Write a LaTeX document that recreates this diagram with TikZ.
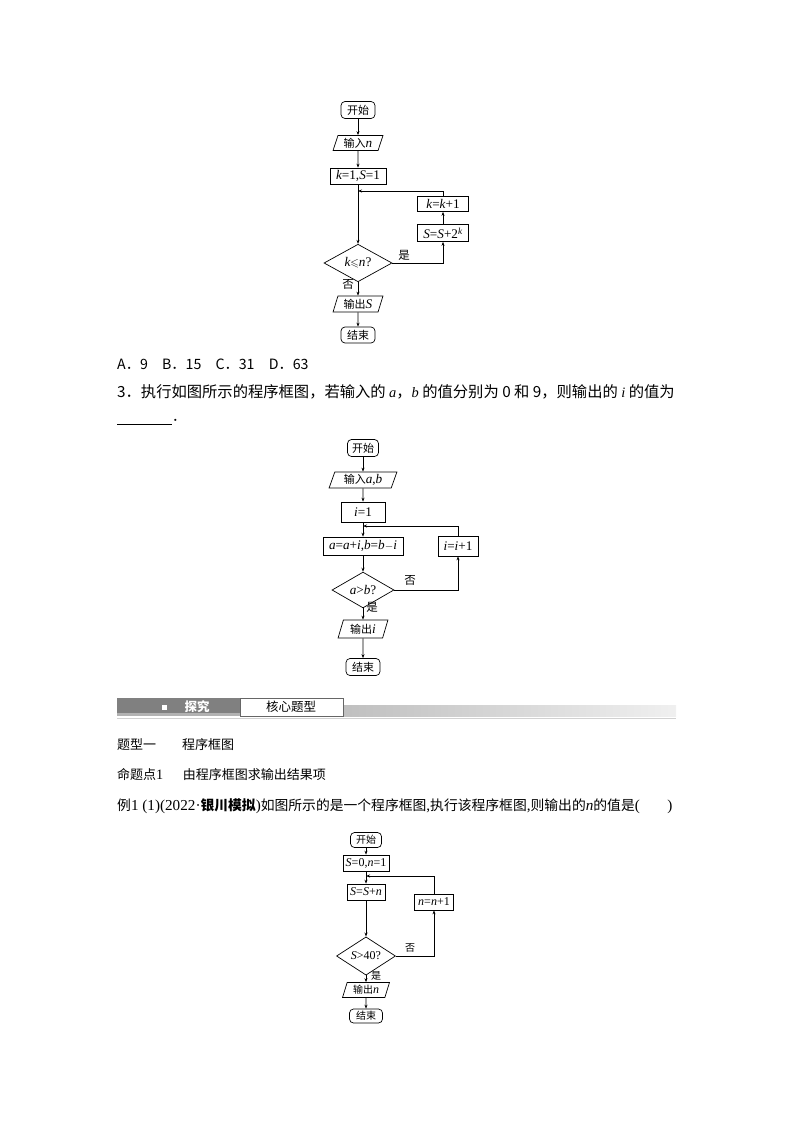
\documentclass[tikz,border=0pt]{standalone}
\usepackage{amssymb}
\usepackage{fontspec}
\setmainfont{Noto Sans CJK SC}
\newfontfamily\lat[Scale=1.2]{Liberation Serif}
\newfontfamily\latb[Scale=1.1]{Liberation Serif}
\newcommand\vv[1]{{\lat\itshape #1}}
\newcommand\ff[1]{{\lat #1}}
\newcommand\bv[1]{{\latb\itshape #1}}
\usetikzlibrary{shapes.geometric,arrows.meta}
\begin{document}
\begin{tikzpicture}[x=1pt,y=-1pt,
  >={Stealth[length=4pt,width=3pt]},
  fc/.style={draw, line width=0.7pt, inner sep=0.5pt, font=\fontsize{11}{12}\selectfont},
  fcs/.style={fc, font=\fontsize{10}{11}\selectfont},
  term/.style={rounded corners=4pt},
  proc/.style={rectangle},
  io/.style={trapezium, trapezium left angle=72, trapezium right angle=108, trapezium stretches},
  dec/.style={diamond, inner sep=0pt},
  conn/.style={line width=0.7pt},
  lbl/.style={font=\fontsize{11.5}{12}\selectfont, inner sep=0pt},
  body/.style={font=\fontsize{13.8}{15}\selectfont, anchor=west, inner sep=0pt}]
\useasboundingbox (0,0) rectangle (794,1123);
\fill[white] (0,0) rectangle (794,1123);

% ---------- flowchart 1 ----------
\node[fc,term, minimum width=34pt, minimum height=17pt] (s1) at (358,110) {开始};
\node[fc,io, minimum width=50pt, minimum height=15pt] (in1) at (358,143) {输入\vv{n}};
\node[fc,proc, minimum width=56pt, minimum height=16pt] (init1) at (358,176) {\ff{\vv{k}=1,\vv{S}=1}};
\node[fc,proc, minimum width=51pt, minimum height=15pt] (kk1) at (443,204) {\ff{\vv{k}=\vv{k}+1}};
\node[fc,proc, minimum width=51pt, minimum height=17pt] (ss1) at (443,233) {\ff{\vv{S}=\vv{S}+2\textsuperscript{\vv{k}}}};
\node[fc,dec, minimum width=68pt, minimum height=28pt] (d1) at (358,263) {\ff{\vv{k}$\leqslant$\vv{n}?}};
\node[fc,io, minimum width=50pt, minimum height=16pt] (out1) at (358,304) {输出\vv{S}};
\node[fc,term, minimum width=34pt, minimum height=16pt] (e1) at (358,335) {结束};
\coordinate (j1) at (358,191);
\draw[conn,->] (s1) -- (in1);
\draw[conn,->] (in1) -- (init1);
\draw[conn,->] (init1) -- (d1);
\draw[conn,->] (kk1.north) |- (j1);
\draw[conn,->] (ss1) -- (kk1);
\draw[conn,->] (d1.east) -| (ss1.south);
\draw[conn,->] (d1) -- (out1);
\draw[conn,->] (out1) -- (e1);
\node[lbl] (l1a) at (404,255) {是};
\node[lbl] (l1b) at (348,284) {否};

% ---------- text ----------
\node[body, font=\fontsize{14.2}{15}\selectfont] (opt) at (117,364) {A．9\quad B．15\quad C．31\quad D．63};
\node[body, font=\fontsize{15.3}{16}\selectfont] (q3) at (117,392) {3．执行如图所示的程序框图，若输入的 {\lat\itshape\fontsize{12}{13}\selectfont a}，{\lat\itshape\fontsize{12}{13}\selectfont b} 的值分别为 0 和 9，则输出的 {\lat\itshape\fontsize{12}{13}\selectfont i} 的值为};
\coordinate (ul0) at (117,424);
\coordinate (ul1) at (172,424);
\draw[line width=0.7pt] (ul0) -- (ul1);
\node[body] (dot3) at (172,420) {．};

% ---------- flowchart 2 ----------
\node[fc,term, minimum width=31pt, minimum height=17pt] (s2) at (363,448) {开始};
\node[fc,io, minimum width=68pt, minimum height=16pt] (in2) at (363,480) {输入\ff{\vv{a},\vv{b}}};
\node[fc,proc, minimum width=44pt, minimum height=20pt] (init2) at (363,512) {\ff{\vv{i}=1}};
\node[fc,proc, minimum width=80pt, minimum height=18pt] (upd2) at (363,546) {\ff{\vv{a}=\vv{a}+\vv{i},\vv{b}=\vv{b}$-$\vv{i}}};
\node[fc,proc, minimum width=40pt, minimum height=20pt] (inc2) at (458,546) {\ff{\vv{i}=\vv{i}+1}};
\node[fc,dec, minimum width=62pt, minimum height=26pt] (d2) at (363,590) {\ff{\vv{a}>\vv{b}?}};
\node[fc,io, minimum width=50pt, minimum height=18pt] (out2) at (363,629) {输出\vv{i}};
\node[fc,term, minimum width=34pt, minimum height=17pt] (e2) at (363,667) {结束};
\coordinate (j2) at (363,526);
\draw[conn,->] (s2) -- (in2);
\draw[conn,->] (in2) -- (init2);
\draw[conn,->] (init2) -- (upd2);
\draw[conn,->] (inc2.north) |- (j2);
\draw[conn,->] (upd2) -- (d2);
\draw[conn,->] (d2.east) -| (inc2.south);
\draw[conn,->] (d2) -- (out2);
\draw[conn,->] (out2) -- (e2);
\node[lbl] (l2a) at (410,580) {否};
\node[lbl] (l2b) at (372,607) {是};

% ---------- banner ----------
\fill[black!50] (117,698) rectangle (240,716);
\fill[black!30] (117,713) rectangle (240,716);
\fill[white] (162,705) rectangle (167,710);
\node[font=\fontsize{12.5}{14}\selectfont\bfseries, text=white, inner sep=0pt] (bn1) at (197,707) {探究};
\shade[left color=black!25, right color=black!6] (343,705) rectangle (676,716);
\draw[black!18, line width=1pt] (117,718) -- (676,718);
\draw[fill=white, draw=black!60, line width=0.6pt] (240,698) rectangle (343,716);
\node[font=\fontsize{12.5}{14}\selectfont, inner sep=0pt] (bn2) at (291,707) {核心题型};

% ---------- text ----------
\node[body, font=\fontsize{13}{15}\selectfont] (t1) at (117,745) {题型一\quad\quad 程序框图};
\node[body, font=\fontsize{13}{15}\selectfont] (t2) at (117,774) {命题点{\latb 1}\quad\enspace 由程序框图求输出结果项};
\node[body] (t3) at (117,806) {例{\latb 1 (1)(2022·}\textbf{银川模拟}{\latb )}如图所示的是一个程序框图{\latb ,}执行该程序框图{\latb ,}则输出的\bv{n}的值是{\latb (}\qquad{\latb )}};

% ---------- flowchart 3 ----------
\node[fcs,term, minimum width=31pt, minimum height=15pt] (s3) at (366,840) {开始};
\node[fcs,proc, minimum width=46pt, minimum height=16pt] (init3) at (366,863) {\ff{\vv{S}=0,\vv{n}=1}};
\node[fcs,proc, minimum width=38pt, minimum height=16pt] (upd3) at (366,892) {\ff{\vv{S}=\vv{S}+\vv{n}}};
\node[fcs,proc, minimum width=39pt, minimum height=16pt] (inc3) at (434,902) {\ff{\vv{n}=\vv{n}+1}};
\node[fcs,dec, minimum width=59pt, minimum height=36pt] (d3) at (366,956) {\ff{\vv{S}>40?}};
\node[fcs,io, minimum width=47pt, minimum height=15pt] (out3) at (366,990) {输出\vv{n}};
\node[fcs,term, minimum width=33pt, minimum height=14pt] (e3) at (366,1016) {结束};
\coordinate (j3) at (366,876);
\draw[conn,->] (s3) -- (init3);
\draw[conn,->] (init3) -- (upd3);
\draw[conn,->] (inc3.north) |- (j3);
\draw[conn,->] (upd3) -- (d3);
\draw[conn,->] (d3.east) -| (inc3.south);
\draw[conn,->] (d3) -- (out3);
\draw[conn,->] (out3) -- (e3);
\node[lbl, font=\fontsize{10}{11}\selectfont] (l3a) at (410,948) {否};
\node[lbl, font=\fontsize{10}{11}\selectfont] (l3b) at (376,976) {是};
\end{tikzpicture}
\end{document}
